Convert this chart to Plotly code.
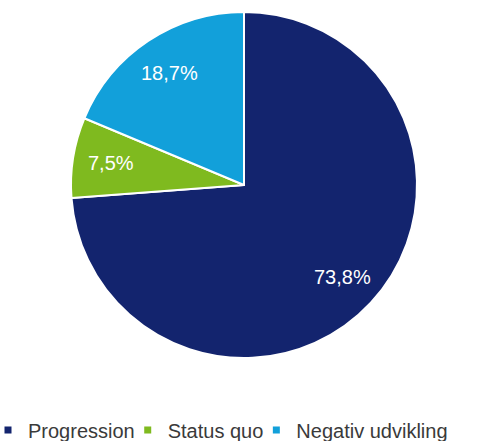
import math
import plotly.graph_objects as go

labels = ["Progression", "Status quo", "Negativ udvikling"]
values = [73.8, 7.5, 18.7]
colors = ["#13246E", "#7FBA1F", "#12A0DA"]
text_labels = [f"{v:.1f}".replace(".", ",") + "%" for v in values]

W, H = 488, 441
ML, MB = 20, 60
PW, PH = W - ML, H - MB
cx, cy, r = 244, 185, 173
label_frac = 0.78


def px2paper(x, y):
    return (x - ML) / PW, 1 - y / PH


fig = go.Figure()
x0, y1 = px2paper(cx - r, cy - r)
x1, y0 = px2paper(cx + r, cy + r)
fig.add_trace(go.Pie(
    labels=labels, values=values,
    textinfo="none",
    marker=dict(colors=colors, line=dict(color="white", width=2)),
    sort=False, direction="clockwise", rotation=0,
    showlegend=False, hoverinfo="label+percent",
    domain=dict(x=[x0, x1], y=[y0, y1]),
))

# data labels placed at the mid-angle of each slice (derived from values)
total = sum(values)
cum = 0.0
for v, t in zip(values, text_labels):
    mid = (cum + v / 2) / total * 2 * math.pi
    cum += v
    ax, ay = px2paper(cx + label_frac * r * math.sin(mid), cy - label_frac * r * math.cos(mid))
    fig.add_annotation(x=ax, y=ay, xref="paper", yref="paper",
                       xanchor="center", yanchor="middle",
                       text=t, showarrow=False,
                       font=dict(color="white", size=20, family="Liberation Sans, Arial"))

for lab, col in zip(labels, colors):
    fig.add_trace(go.Scatter(x=[None], y=[None], mode="markers", name=lab,
                             marker=dict(symbol="square", size=7, color=col)))

fig.update_layout(
    width=W, height=H, margin=dict(l=ML, r=0, t=0, b=MB),
    paper_bgcolor="white", plot_bgcolor="white",
    xaxis=dict(visible=False), yaxis=dict(visible=False),
    legend=dict(orientation="h", xref="container", yref="container",
                x=0, xanchor="left", y=1 - 430 / H, yanchor="middle",
                font=dict(size=20, color="#3a3a3a", family="Liberation Sans, Arial"),
                itemwidth=30, tracegroupgap=0, indentation=-12),
)
fig.write_html("out.html", config={"displayModeBar": False},
               post_script="document.body.style.margin='0';")
